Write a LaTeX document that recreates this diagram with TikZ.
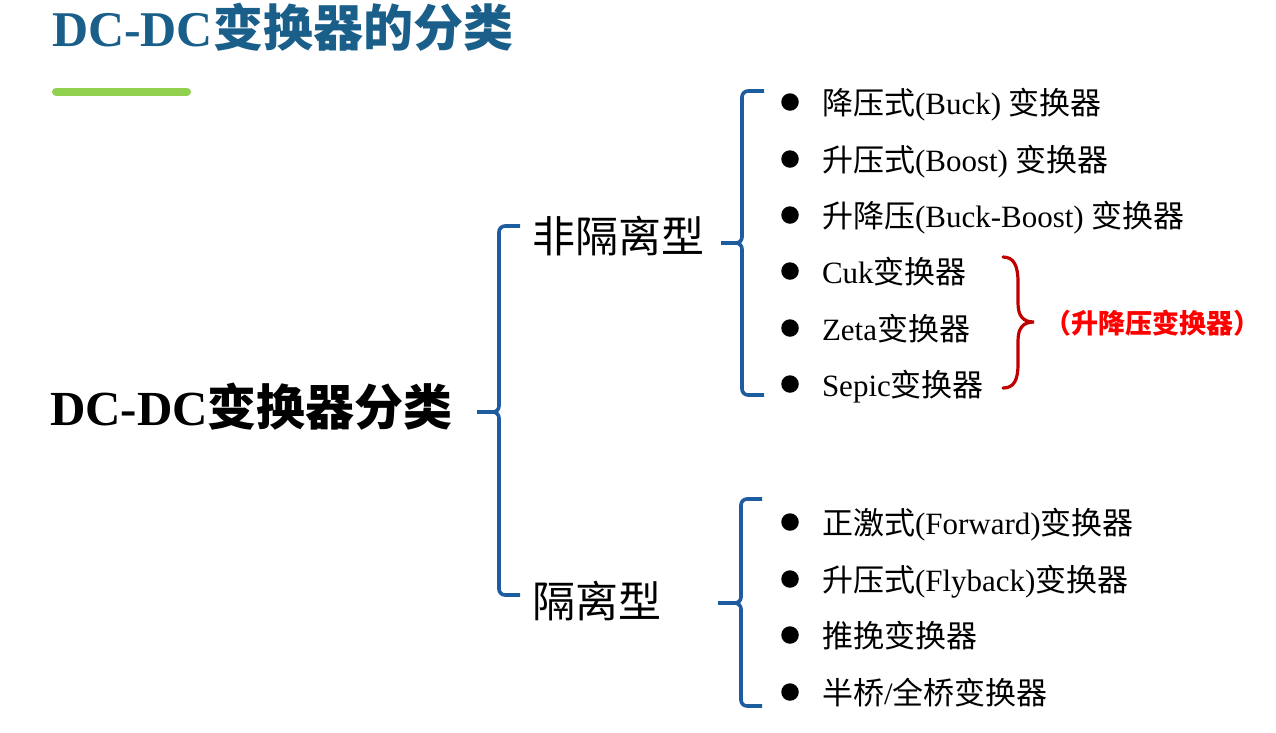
\documentclass[tikz,border=0pt]{standalone}
\usepackage{fontspec}
\setmainfont{Liberation Serif}
\newfontfamily\cjk{Noto Sans CJK SC}
\newcommand\zh[1]{{\cjk #1}}
\definecolor{titleblue}{HTML}{1A5E8A}
\definecolor{brblue}{HTML}{1E5CA0}
\definecolor{leafgreen}{HTML}{92D050}
\definecolor{bracered}{HTML}{C00000}
\definecolor{notered}{HTML}{FF0000}
\begin{document}
\begin{tikzpicture}[x=1pt,y=-1pt,
  every node/.style={inner sep=0pt,outer sep=0pt},
  txt/.style={anchor=base west},
  title/.style={txt,font=\fontsize{50}{60}\selectfont\bfseries,text=titleblue},
  rootlbl/.style={txt,font=\fontsize{49}{58}\selectfont\bfseries},
  grouplbl/.style={txt,font=\fontsize{43}{52}\selectfont\cjk},
  itemlbl/.style={txt,font=\fontsize{31}{38}\selectfont},
  notelbl/.style={txt,font=\fontsize{27}{33}\selectfont\cjk\bfseries,text=notered},
  bulletdot/.style={circle,fill=black,minimum size=17.5pt},
  bracket/.style={draw=brblue,line width=3.6pt,rounded corners=6pt},
  curly/.style={draw=bracered,line width=3.2pt,line cap=round}]
\useasboundingbox (0,0) rectangle (1276,732);

% heading and its underline
\node[title] (head) at (52,46) {DC-DC\zh{变换器的分类}};
\coordinate (barL) at (56,91.5);
\coordinate (barR) at (187,91.5);
\draw[leafgreen,line width=8pt,line cap=round] (barL) -- (barR);

% root of the tree
\node[rootlbl] (root) at (50,425) {DC-DC\zh{变换器分类}};

% first-level groups
\node[grouplbl] (nonIso) at (532,252) {非隔离型};
\node[grouplbl] (iso) at (532,617) {隔离型};

% bracket joining root to both groups
\coordinate (rTip) at (477,412);
\coordinate (rMid) at (499,412);
\coordinate (rTop) at (520,226);
\coordinate (rBot) at (520,595);
\draw[bracket] (rTop) -| (rMid) -- (rTip);
\draw[bracket] (rBot) -| (rMid) -- (rTip);

% non-isolated converters
\foreach \i/\y/\t in {1/102/{\zh{降压式}(Buck) \zh{变换器}},
                      2/159/{\zh{升压式}(Boost) \zh{变换器}},
                      3/215/{\zh{升降压}(Buck-Boost) \zh{变换器}},
                      4/271/{Cuk\zh{变换器}},
                      5/328/{Zeta\zh{变换器}},
                      6/384/{Sepic\zh{变换器}}}{
  \node[bulletdot] (aDot\i) at (790,\y) {};
  \node[itemlbl] (a\i) at (822,\y+12) {\t};
}
\coordinate (aTip) at (721,243);
\coordinate (aMid) at (742,243);
\coordinate (aTop) at (764,91);
\coordinate (aBot) at (764,395);
\draw[bracket] (aTop) -| (aMid) -- (aTip);
\draw[bracket] (aBot) -| (aMid) -- (aTip);

% isolated converters
\foreach \i/\y/\t in {1/522/{\zh{正激式}(Forward)\zh{变换器}},
                      2/579/{\zh{升压式}(Flyback)\zh{变换器}},
                      3/635/{\zh{推挽变换器}},
                      4/692/{\zh{半桥}/\zh{全桥变换器}}}{
  \node[bulletdot] (bDot\i) at (790,\y) {};
  \node[itemlbl] (b\i) at (822,\y+12) {\t};
}
\coordinate (bTip) at (718,603);
\coordinate (bMid) at (741,603);
\coordinate (bTop) at (762,499);
\coordinate (bBot) at (762,706);
\draw[bracket] (bTop) -| (bMid) -- (bTip);
\draw[bracket] (bBot) -| (bMid) -- (bTip);

% curly brace grouping Cuk, Zeta and Sepic
\coordinate (cTop) at (1003,257);
\coordinate (cTip) at (1034,322);
\coordinate (cBot) at (1003,388);
\draw[curly] (cTop) .. controls (1014,257) and (1018,266) .. (1018,282)
  -- (1018,303) .. controls (1018,316) and (1023,322) .. (cTip)
  .. controls (1023,322) and (1018,328) .. (1018,341)
  -- (1018,364) .. controls (1018,380) and (1014,388) .. (cBot);
\node[notelbl] (note) at (1044,333) {（升降压变换器）};
\end{tikzpicture}
\end{document}
